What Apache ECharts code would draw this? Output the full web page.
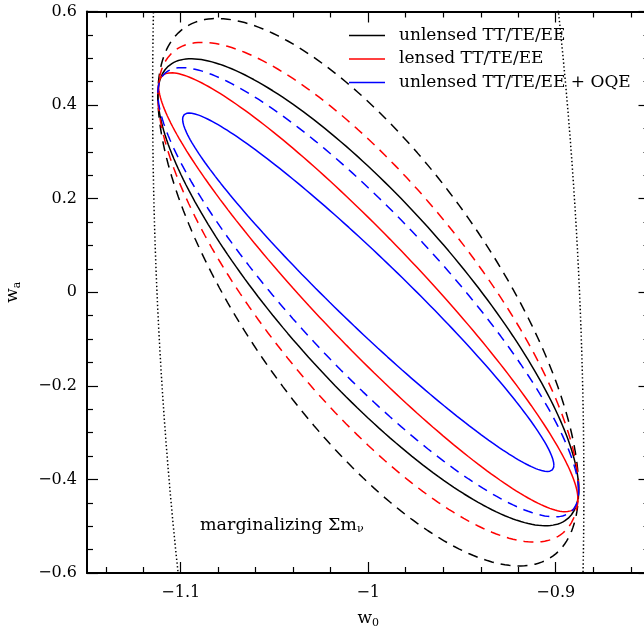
<!DOCTYPE html>
<html>
<head>
<meta charset="utf-8">
<script src="https://cdn.jsdelivr.net/npm/echarts@6/dist/echarts.min.js"></script>
<style>
  html, body { margin: 0; padding: 0; background: #fff; }
  #chart { width: 644px; height: 631px; }
</style>
</head>
<body>
<div id="chart"></div>
<script>
// contours: centre, 1-sigma widths along w0 / wa, correlation
const contourNames = [
  'unlensed TT/TE/EE', 'unlensed TT/TE/EE dashed',
  'lensed TT/TE/EE', 'lensed TT/TE/EE dashed',
  'unlensed TT/TE/EE + OQE', 'unlensed TT/TE/EE + OQE dashed',
  'dotted'
]
const centerW0 = [-1.0, -1.0, -1.0, -1.0, -1.0, -1.0, -1.0]
const centerWa = [0.0, 0.0, 0.0, 0.0, 0.0, 0.0, 0.0]
const sigmaW0 = [0.1122, 0.1122, 0.1118, 0.1122, 0.099, 0.1122, 0.115]
const sigmaWa = [0.499, 0.585, 0.469, 0.534, 0.383, 0.480, 2.10]
const rho = [-0.842, -0.718, -0.940, -0.790, -0.965, -0.885, -0.200]

const legendNames = ['unlensed TT/TE/EE', 'lensed TT/TE/EE', 'unlensed TT/TE/EE + OQE']

// axis ticks
const xMajorTicks = [-1.1, -1.0, -0.9]
const xMinorTicks = [-1.14, -1.12, -1.08, -1.06, -1.04, -1.02, -0.98, -0.96, -0.94, -0.92, -0.88, -0.86]
const yMajorTicks = [-0.6, -0.4, -0.2, 0, 0.2, 0.4, 0.6]
const yMinorTicks = [-0.55, -0.5, -0.45, -0.35, -0.3, -0.25, -0.15, -0.1, -0.05,
  0.05, 0.1, 0.15, 0.25, 0.3, 0.35, 0.45, 0.5, 0.55]

const lineColors = ['#000', '#000', '#ff0000', '#ff0000', '#0000ff', '#0000ff', '#000']
const lineTypes = ['solid', [10, 7], 'solid', [10, 7], 'solid', [10, 7], [1.4, 2.4]]
const legendColors = ['#000', '#ff0000', '#0000ff']

const FONT = 'DejaVu Serif'

function ellipse (i) {
  let n = i === 6 ? 1440 : 240
  let pts = []
  let s = Math.sqrt(1 - rho[i] * rho[i])
  for (let k = 0; k <= n; k++) {
    let t = 2 * Math.PI * k / n
    pts.push([
      centerW0[i] + sigmaW0[i] * Math.cos(t),
      centerWa[i] + sigmaWa[i] * (rho[i] * Math.cos(t) + s * Math.sin(t))
    ])
  }
  return pts
}

function fmt (v) {
  return (v < 0 ? '\u2212' : '') + Math.abs(v)
}

const nameRich = {
  a: { fontFamily: FONT, fontSize: 17, lineHeight: 20, color: '#000' },
  b: { fontFamily: FONT, fontSize: 11, lineHeight: 11, padding: [9, 0, 0, 0], verticalAlign: 'top', color: '#000' }
}

function xAxisDef (pos, major) {
  return {
    type: 'value',
    position: pos,
    min: -1.15,
    max: -0.85,
    axisLine: { show: major, onZero: false, lineStyle: { color: '#000', width: 2 } },
    axisTick: {
      show: true,
      inside: true,
      length: major ? 11 : 6,
      customValues: major ? xMajorTicks : xMinorTicks,
      lineStyle: { color: '#000', width: 1.2 }
    },
    axisLabel: {
      show: major && pos === 'bottom',
      customValues: xMajorTicks,
      formatter: fmt,
      color: '#000',
      fontFamily: FONT,
      fontSize: 16,
      margin: 12
    },
    splitLine: { show: false },
    name: major && pos === 'bottom' ? '{a|w}{b|0}' : '',
    nameLocation: 'middle',
    nameGap: 36,
    nameTextStyle: { rich: nameRich }
  }
}

function yAxisDef (pos, major) {
  return {
    type: 'value',
    position: pos,
    min: -0.6,
    max: 0.6,
    axisLine: { show: major, onZero: false, lineStyle: { color: '#000', width: 2 } },
    axisTick: {
      show: true,
      inside: true,
      length: major ? 11 : 6,
      customValues: major ? yMajorTicks : yMinorTicks,
      lineStyle: { color: '#000', width: 1.2 }
    },
    axisLabel: {
      show: major && pos === 'left',
      customValues: yMajorTicks,
      formatter: fmt,
      color: '#000',
      fontFamily: FONT,
      fontSize: 16,
      margin: 10
    },
    splitLine: { show: false },
    name: major && pos === 'left' ? '{a|w}{b|a}' : '',
    nameLocation: 'middle',
    nameRotate: 90,
    nameGap: 64,
    nameTextStyle: { rich: nameRich }
  }
}

let series = []
for (let i = 0; i < contourNames.length; i++) {
  series.push({
    name: contourNames[i],
    type: 'line',
    xAxisIndex: 0,
    yAxisIndex: 0,
    data: ellipse(i),
    symbol: 'none',
    showSymbol: false,
    clip: true,
    silent: true,
    animation: false,
    itemStyle: { color: lineColors[i] },
    lineStyle: { color: lineColors[i], width: 1.5, type: lineTypes[i] }
  })
}

let option = {
  animation: false,
  grid: { left: 87, top: 11.5, width: 562.5, height: 561.5, outerBoundsMode: 'none', containLabel: false },
  legend: {
    data: legendNames.map((n, i) => ({
      name: n,
      icon: 'rect',
      itemStyle: { color: legendColors[i], borderWidth: 0 }
    })),
    orient: 'vertical',
    left: 349,
    top: 27,
    padding: 0,
    itemWidth: 36,
    itemHeight: 1.5,
    itemGap: 6.5,
    textStyle: { fontFamily: FONT, fontSize: 17, lineHeight: 17, color: '#000', padding: [0, 0, 0, 9] },
    selectedMode: false
  },
  xAxis: [xAxisDef('bottom', true), xAxisDef('bottom', false), xAxisDef('top', true), xAxisDef('top', false)],
  yAxis: [yAxisDef('left', true), yAxisDef('left', false), yAxisDef('right', true), yAxisDef('right', false)],
  graphic: [{
    type: 'text',
    left: 200,
    top: 515,
    style: {
      text: '{a|marginalizing \u03a3m}{b|\u03bd}',
      rich: {
        a: { fontFamily: FONT, fontSize: 17.5, lineHeight: 20, fill: '#000' },
        b: { fontFamily: FONT, fontSize: 11, lineHeight: 11, padding: [9, 0, 0, 0], verticalAlign: 'top', fill: '#000' }
      }
    }
  }],
  series: series
}

let chart = echarts.init(document.getElementById('chart'))
chart.setOption(option)
</script>
</body>
</html>
